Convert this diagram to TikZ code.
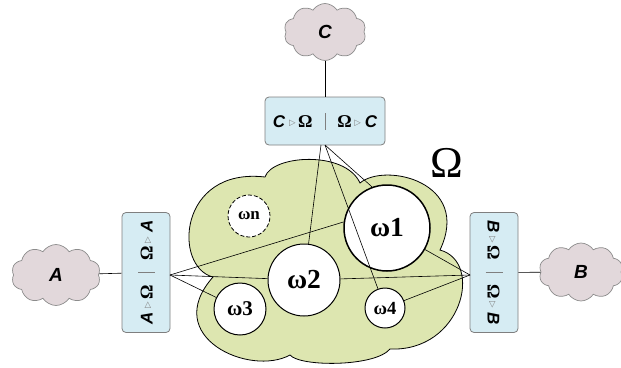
\documentclass[tikz,border=0pt]{standalone}
\usepackage{fontspec}
\setmainfont{Liberation Serif}
\setsansfont{Liberation Sans}
\newfontfamily\symfont{DejaVu Sans}
\usetikzlibrary{shapes.symbols}

\definecolor{cloudgray}{HTML}{E2D8DB}
\definecolor{cloudedge}{HTML}{8C8C8C}
\definecolor{omegagreen}{HTML}{DDE6B0}
\definecolor{boxblue}{HTML}{D6ECF3}
\definecolor{boxedge}{HTML}{7F7F7F}

% small outlined triangle, separator bar, agent letters and Omega
\newcommand{\tri}{\raisebox{2.5pt}{\symfont\fontsize{8.5}{8.5}\selectfont\textcolor{boxedge}{▷}}}
\newcommand{\sepbar}{\textcolor{boxedge}{\rule[-2pt]{0.7pt}{17pt}}}
\newcommand{\agent}[1]{{\sffamily\bfseries\itshape\fontsize{17}{17}\selectfont #1}}
\newcommand{\Om}{{\bfseries\fontsize{18}{18}\selectfont Ω}}
\newcommand{\interface}[1]{\agent{#1}\hspace{4pt}\tri\hspace{2.5pt}\Om\hspace{12pt}\sepbar\hspace{12pt}\Om\hspace{2.5pt}\tri\hspace{4pt}\agent{#1}}

\tikzset{
  agentcloud/.style={cloud, cloud puffs=10, cloud puff arc=115, cloud ignores aspect,
    fill=cloudgray, draw=cloudedge, line width=0.7pt, inner sep=0pt,
    font=\sffamily\bfseries\itshape\fontsize{19}{19}\selectfont},
  ifacebox/.style={draw=boxedge, fill=boxblue, rounded corners=4pt, line width=0.8pt,
    minimum width=120pt, minimum height=48pt, inner sep=0pt},
  part/.style={circle, draw=black, fill=white, line width=1pt, inner sep=0pt,
    font=\bfseries},
  link/.style={draw=black, line width=0.6pt},
}

\begin{document}
\begin{tikzpicture}[x=1pt, y=-1pt]
\useasboundingbox (0,0) rectangle (621,367);

% the composite agent Omega
\path[fill=omegagreen, draw=black, line width=0.8pt]
  (213,277) .. controls (173,267) and (178,167) .. (265,177)
  .. controls (272,155) and (345,150) .. (360,183)
  .. controls (385,162) and (472,182) .. (440,250)
  .. controls (484,262) and (462,352) .. (390,349)
  .. controls (375,367) and (300,367) .. (290,355)
  .. controls (250,377) and (160,337) .. (213,277) -- cycle;
\node[font=\fontsize{44}{44}\selectfont] (omega) at (447,163) {Ω};

% outer agents
\node[agentcloud, minimum width=89pt, minimum height=61pt] (A) at (56,275) {A};
\node[agentcloud, minimum width=84pt, minimum height=58pt] (B) at (581,272) {B};
\node[agentcloud, minimum width=82pt, minimum height=57pt] (C) at (325,32) {C};

% interfaces
\node[ifacebox] (ic) at (325,121) {\interface{C}};
\node[ifacebox, rotate=90] (ia) at (146,272.5) {\interface{A}};
\node[ifacebox, rotate=-90] (ib) at (494,272.5) {\interface{B}};

% sub-agents
\node[part, line width=1.5pt, minimum size=86pt, font=\bfseries\fontsize{27.5}{27.5}\selectfont] (w1) at (387,228) {ω1};
\node[part, minimum size=72pt, font=\bfseries\fontsize{27.5}{27.5}\selectfont] (w2) at (304,280) {ω2};
\node[part, minimum size=52pt, font=\bfseries\fontsize{21}{21}\selectfont] (w3) at (240,309) {ω3};
\node[part, minimum size=40pt, font=\bfseries\fontsize{18.5}{18.5}\selectfont] (w4) at (385,308) {ω4};
\node[part, dash pattern=on 4pt off 2pt, line width=0.8pt, minimum size=42pt, font=\bfseries\fontsize{17}{17}\selectfont] (wn) at (249,216) {ωn};

% attachment points on the interfaces
\coordinate (ta) at (321,145);
\coordinate (tb) at (325,145);
\coordinate (la) at (170,275);
\coordinate (ra) at (470,275);

% agent to interface
\draw[link] (A) -- (ia);
\draw[link] (ib) -- (B);
\draw[link] (C) -- (ic);

% interface to sub-agents
\draw[link] (ta) -- (w2);
\draw[link] (tb) -- (w4);
\draw[link] (tb) -- (w1.110);
\draw[link] (la) -- (w1.172);
\draw[link] (la) -- (w2);
\draw[link] (la) -- (w3);
\draw[link] (ra) -- (w1);
\draw[link] (ra) -- (w2);
\draw[link] (ra) -- (w4);
\end{tikzpicture}
\end{document}
